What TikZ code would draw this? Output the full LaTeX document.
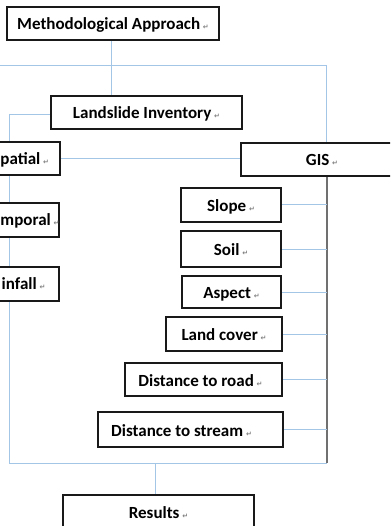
\documentclass[tikz,border=0pt]{standalone}
\usepackage{fontspec}
\setmainfont{Carlito}
\newfontfamily\djfont{DejaVu Sans}
\usetikzlibrary{backgrounds}
\definecolor{lblue}{HTML}{A3C5E6}
\definecolor{busgrey}{HTML}{707070}
\newcommand\pmk{\,{\djfont\fontsize{7}{7}\selectfont\color{gray}↵}}
\tikzset{
  boxtxt/.style={font=\bfseries\fontsize{17}{17}\selectfont, text height=13pt, text depth=0pt},
  box/.style={draw=black!90, line width=1.2pt, fill=white, rectangle, inner sep=0pt, boxtxt},
  cuttxt/.style={inner sep=0pt, boxtxt, text height=, anchor=base west},
  link/.style={draw=lblue, line width=1pt},
  greylink/.style={draw=busgrey, line width=1.4pt}
}
\begin{document}
\begin{tikzpicture}[x=1pt,y=-1pt]
\useasboundingbox (0,0) rectangle (390,526);
\clip (0,0) rectangle (390,526);
\node[box, minimum width=212pt, minimum height=33pt] (meth) at (113,23.5) {Methodological Approach\pmk};
\node[box, minimum width=191pt, minimum height=33pt] (inv) at (146.5,112.5) {Landslide Inventory\pmk};
\node[box, minimum width=93pt, minimum height=33pt] (spat) at (13.5,158.5) {};
\node[box, minimum width=97pt, minimum height=34pt] (temp) at (10.5,220) {};
\node[box, minimum width=89pt, minimum height=34pt] (rain) at (14.5,284) {};
\node[cuttxt] (spatt) at (0.3,165) {patial\pmk};
\node[cuttxt] (tempt) at (0.3,225.5) {mporal\pmk};
\node[cuttxt] (raint) at (1.5,289.5) {infall\pmk};
\node[box, minimum width=162pt, minimum height=33pt] (gis) at (322,159.5) {GIS\pmk};
\node[box, minimum width=100pt, minimum height=34pt] (slope) at (231,205) {Slope\pmk};
\node[box, minimum width=100pt, minimum height=36pt] (soil) at (231,249) {Soil\pmk};
\node[box, minimum width=99pt, minimum height=32pt] (aspect) at (231.5,292) {Aspect\pmk};
\node[box, minimum width=116pt, minimum height=34pt] (cover) at (224,334) {Land cover\pmk};
\node[box, minimum width=157pt, minimum height=33pt] (road) at (203.5,379.5) {Distance to road\pmk\hspace*{6pt}};
\node[box, minimum width=185pt, minimum height=35pt] (stream) at (190.5,429.5) {Distance to stream\pmk\hspace*{18pt}};
\node[box, minimum width=191pt, minimum height=33pt] (results) at (158.5,511.5) {Results\pmk};
\coordinate (tl) at (-5,66);
\coordinate (bl) at (9,463);
\coordinate (br) at (327,463);
\begin{scope}[on background layer]
\draw[link] ([xshift=-2pt]meth.south) -- ([xshift=-2pt]meth.south |- inv.north);
\draw[link] (tl) -| ([xshift=4pt]gis.north);
\draw[link] ([yshift=-2pt]inv.west) -| (bl) -- (br);
\draw[greylink] (br) -- ([xshift=5pt]gis.south);
\draw[link] (spat.east) -- (spat.east -| gis.west);
\foreach \n in {slope,soil,aspect,cover,road,stream}
  \draw[link] (\n.east) -- (\n.east -| br);
\draw[link] ([xshift=-3pt]results.north) -- ([xshift=-3pt]results.north |- br);
\end{scope}
\end{tikzpicture}
\end{document}
